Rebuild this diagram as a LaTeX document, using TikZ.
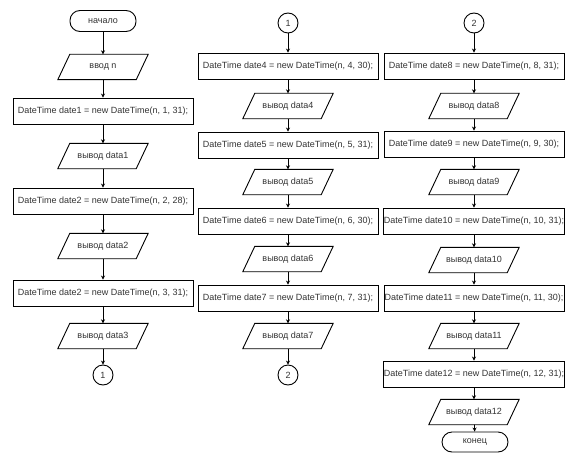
\documentclass[tikz,border=0pt]{standalone}
\usepackage{fontspec}
\setmainfont{Liberation Sans}
\usetikzlibrary{arrows.meta}
\definecolor{txt}{HTML}{333333}
\tikzset{
  base/.style={draw=black, line width=0.9pt, text=txt, font=\fontsize{9}{10}\selectfont, inner sep=0pt},
  proc/.style={base, rectangle, minimum width=180pt, minimum height=26pt},
  io/.style={text=txt, font=\fontsize{9}{10}\selectfont, inner sep=0pt, rectangle, minimum width=78pt, minimum height=25pt},
  para/.style={draw=black, line width=0.9pt, line join=miter},
  term/.style={base, rectangle, rounded corners=10pt, minimum width=66pt, minimum height=21pt},
  conn/.style={base, circle, minimum size=20pt},
  arr/.style={draw=black, line width=0.8pt, -{Stealth[length=4pt,width=4pt]}}
}
\begin{document}
\begin{tikzpicture}[x=1pt,y=-1pt]
\useasboundingbox (0,0) rectangle (577,468);
% column 1
\node[term] (start) at (103,21) {начало};
\node[io] (in) at (103,67) {ввод n};
\node[proc] (d1) at (103,111) {DateTime date1 = new DateTime(n, 1, 31);};
\node[io] (o1) at (103,156) {вывод data1};
\node[proc] (d2) at (103,201) {DateTime date2 = new DateTime(n, 2, 28);};
\node[io] (o2) at (103,246) {вывод data2};
\node[proc] (d3) at (103,293) {DateTime date2 = new DateTime(n, 3, 31);};
\node[io] (o3) at (103,336) {вывод data3};
\node[conn] (c1a) at (103,375) {1};
\foreach \a/\b in {start/in,in/d1,d1/o1,o1/d2,d2/o2,o2/d3,d3/o3,o3/c1a}
  \draw[arr] (\a) -- (\b);
% column 2
\node[conn] (c1b) at (288,23) {1};
\node[proc] (d4) at (288,66) {DateTime date4 = new DateTime(n, 4, 30);};
\node[io] (o4) at (288,106) {вывод data4};
\node[proc] (d5) at (288,145) {DateTime date5 = new DateTime(n, 5, 31);};
\node[io] (o5) at (288,182) {вывод data5};
\node[proc] (d6) at (288,221) {DateTime date6 = new DateTime(n, 6, 30);};
\node[io] (o6) at (288,259) {вывод data6};
\node[proc] (d7) at (288,298) {DateTime date7 = new DateTime(n, 7, 31);};
\node[io] (o7) at (288,336) {вывод data7};
\node[conn] (c2a) at (288,375) {2};
\foreach \a/\b in {c1b/d4,d4/o4,o4/d5,d5/o5,o5/d6,d6/o6,o6/d7,d7/o7,o7/c2a}
  \draw[arr] (\a) -- (\b);
% column 3
\node[conn] (c2b) at (474,23) {2};
\node[proc] (d8) at (474,66) {DateTime date8 = new DateTime(n, 8, 31);};
\node[io] (o8) at (474,106) {вывод data8};
\node[proc] (d9) at (474,144) {DateTime date9 = new DateTime(n, 9, 30);};
\node[io] (o9) at (474,182) {вывод data9};
\node[proc] (d10) at (474,221) {DateTime date10 = new DateTime(n, 10, 31);};
\node[io] (o10) at (474,260) {вывод data10};
\node[proc] (d11) at (474,298) {DateTime date11 = new DateTime(n, 11, 30);};
\node[io] (o11) at (474,336) {вывод data11};
\node[proc] (d12) at (474,374) {DateTime date12 = new DateTime(n, 12, 31);};
\node[io] (o12) at (474,412) {вывод data12};
\node[term, minimum height=20pt] (end) at (475,442) {конец};
\foreach \a/\b in {c2b/d8,d8/o8,o8/d9,d9/o9,o9/d10,d10/o10,o10/d11,d11/o11,o11/d12,d12/o12,o12/end}
  \draw[arr] (\a) -- (\b);
% parallelogram outlines
\foreach \n in {in,o1,o2,o3,o4,o5,o6,o7,o8,o9,o10,o11,o12}
  \draw[para] ([xshift=6pt]\n.north west) -- ([xshift=6pt]\n.north east)
    -- ([xshift=-6pt]\n.south east) -- ([xshift=-6pt]\n.south west) -- cycle;
\end{tikzpicture}
\end{document}
